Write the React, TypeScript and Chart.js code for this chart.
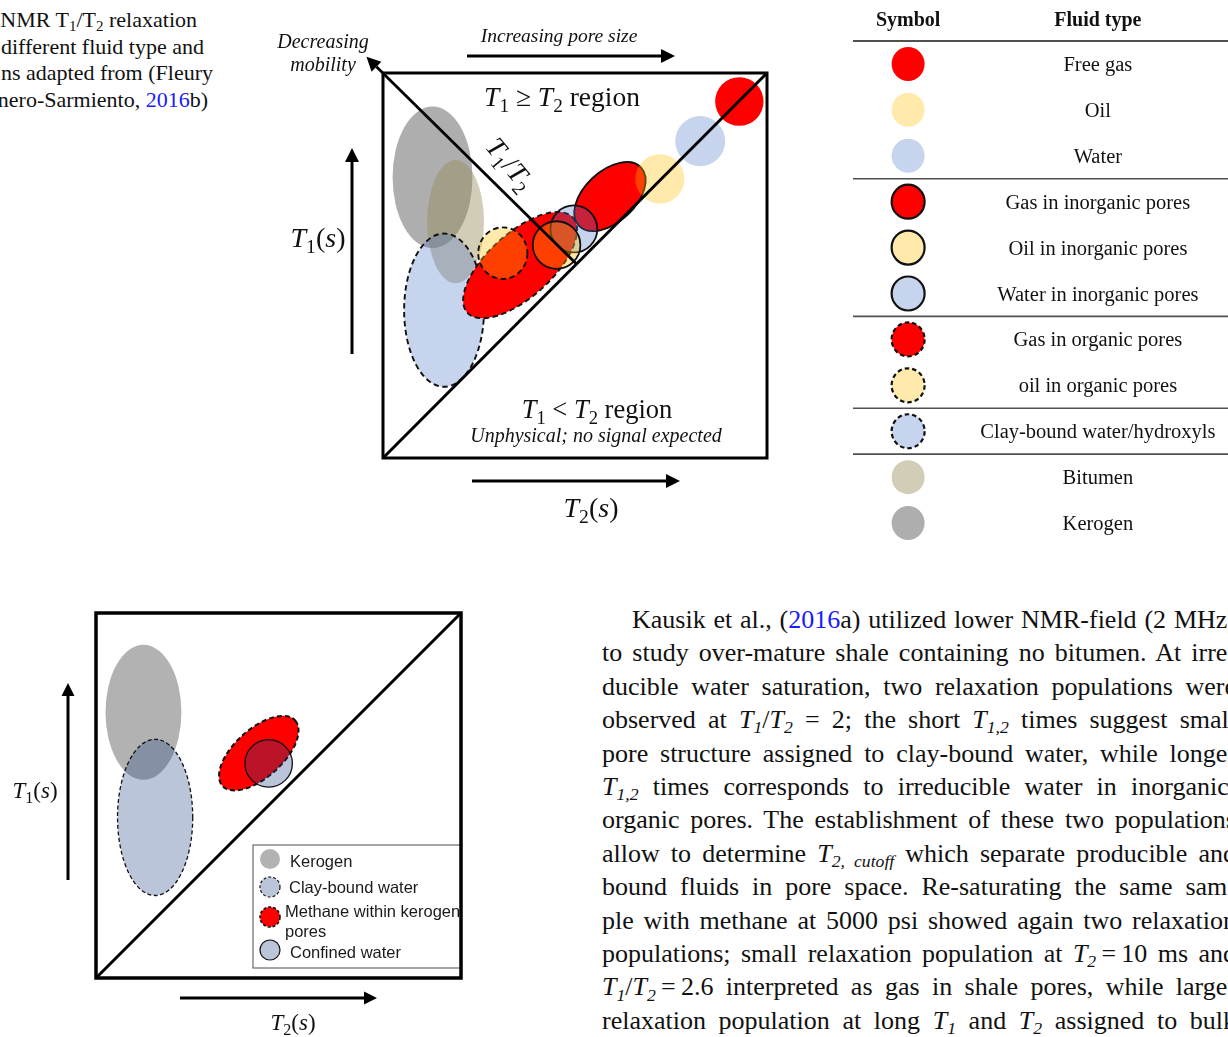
import React, { useEffect, useRef } from 'react';
import { Chart, registerables } from 'chart.js';

Chart.register(...registerables);

// ---------------- DATA ----------------
// Upper diagram: fluid populations on the T2 (x) / T1 (y) map, both axes 0..100 (relative log units)
const topFluids = [
  'Kerogen',
  'Bitumen',
  'Clay-bound water/hydroxyls',
  'Gas in organic pores',
  'oil in organic pores',
  'Gas in inorganic pores',
  'Water in inorganic pores',
  'Oil in inorganic pores',
  'Oil',
  'Water',
  'Free gas',
];
const topT2 = [12.9, 18.9, 15.9, 35.7, 31.2, 59.1, 49.7, 45.2, 72.1, 82.6, 92.8];
const topT1 = [72.9, 61.4, 38.4, 50.1, 53.2, 67.9, 59.5, 55.3, 72.5, 82.3, 92.6];
const topSpreadA = [10.4, 7.4, 10.4, 18.5, 6.4, 11.1, 6.1, 6.2, 6.4, 6.5, 6.3];
const topSpreadB = [18.4, 16.0, 19.9, 8.3, 6.7, 6.6, 6.1, 6.2, 6.4, 6.5, 6.3];
const topTilt = [0, 0, 0, 42, 0, 43, 0, 0, 0, 0, 0];

// Symbol table
const tableHeaders = ['Symbol', 'Fluid type'];
const tableFluids = [
  'Free gas',
  'Oil',
  'Water',
  'Gas in inorganic pores',
  'Oil in inorganic pores',
  'Water in inorganic pores',
  'Gas in organic pores',
  'oil in organic pores',
  'Clay-bound water/hydroxyls',
  'Bitumen',
  'Kerogen',
];
const tableGroupStarts = [3, 6, 8, 9];

// Lower diagram
const botFluids = ['Kerogen', 'Clay-bound water', 'Methane within kerogen pores', 'Confined water'];
const botT2 = [13.0, 16.2, 44.6, 47.3];
const botT1 = [72.8, 44.0, 61.6, 58.8];
const botSpreadA = [10.4, 10.3, 13.4, 6.5];
const botSpreadB = [18.5, 21.4, 6.6, 6.5];
const botTilt = [0, 0, 42, 0];
const botLegendLines = [['Kerogen'], ['Clay-bound water'], ['Methane within kerogen', 'pores'], ['Confined water']];

// ---------------- STYLES ----------------
type Sty = { fill: string; border?: 'solid' | 'dashed' };
const RED = '#ff0000';
const GOLD = 'rgba(255,192,0,0.33)';
const BLUE = 'rgba(68,114,196,0.3)';
const TAN = 'rgba(147,137,83,0.42)';
const GREY = 'rgba(127,127,127,0.63)';
const fluidStyles: Record<string, Sty> = {
  'Free gas': { fill: RED },
  Oil: { fill: GOLD },
  Water: { fill: BLUE },
  'Gas in inorganic pores': { fill: RED, border: 'solid' },
  'Oil in inorganic pores': { fill: GOLD, border: 'solid' },
  'Water in inorganic pores': { fill: BLUE, border: 'solid' },
  'Gas in organic pores': { fill: RED, border: 'dashed' },
  'oil in organic pores': { fill: GOLD, border: 'dashed' },
  'Clay-bound water/hydroxyls': { fill: BLUE, border: 'dashed' },
  Bitumen: { fill: TAN },
  Kerogen: { fill: GREY },
};
const NAVY = 'rgba(30,62,128,0.3)';
const botStyles: Record<string, Sty> = {
  Kerogen: { fill: 'rgba(127,127,127,0.6)' },
  'Clay-bound water': { fill: NAVY, border: 'dashed' },
  'Methane within kerogen pores': { fill: RED, border: 'dashed' },
  'Confined water': { fill: NAVY, border: 'solid' },
};

const SERIF = '"Liberation Serif", "Times New Roman", serif';
const SANS = '"Liberation Sans", Arial, sans-serif';

// ---------------- HELPERS ----------------
type Seg = { t: string; i?: boolean; s?: boolean; b?: boolean };

function drawRich(ctx: CanvasRenderingContext2D, segs: Seg[], x: number, y: number, size: number, align: 'center' | 'left' = 'center', family = SERIF) {
  const fontOf = (sg: Seg) => `${sg.i ? 'italic ' : ''}${sg.b ? 'bold ' : ''}${sg.s ? size * 0.7 : size}px ${family}`;
  const widths = segs.map((sg) => {
    ctx.font = fontOf(sg);
    return ctx.measureText(sg.t).width;
  });
  const total = widths.reduce((a, b) => a + b, 0);
  let cx = align === 'center' ? x - total / 2 : x;
  ctx.textAlign = 'left';
  ctx.textBaseline = 'alphabetic';
  segs.forEach((sg, k) => {
    ctx.font = fontOf(sg);
    ctx.fillText(sg.t, cx, y + (sg.s ? size * 0.22 : 0));
    cx += widths[k];
  });
}

function drawArrow(ctx: CanvasRenderingContext2D, x1: number, y1: number, x2: number, y2: number, lw = 3, hl = 14, hw = 7) {
  const ang = Math.atan2(y2 - y1, x2 - x1);
  const bx = x2 - hl * Math.cos(ang);
  const by = y2 - hl * Math.sin(ang);
  ctx.save();
  ctx.strokeStyle = '#000';
  ctx.fillStyle = '#000';
  ctx.lineWidth = lw;
  ctx.setLineDash([]);
  ctx.beginPath();
  ctx.moveTo(x1, y1);
  ctx.lineTo(bx, by);
  ctx.stroke();
  ctx.beginPath();
  ctx.moveTo(x2, y2);
  ctx.lineTo(bx + hw * Math.sin(ang), by - hw * Math.cos(ang));
  ctx.lineTo(bx - hw * Math.sin(ang), by + hw * Math.cos(ang));
  ctx.closePath();
  ctx.fill();
  ctx.restore();
}

function drawShape(ctx: CanvasRenderingContext2D, x: number, y: number, rx: number, ry: number, rot: number, st: Sty, lw = 1.8, dash = [5, 3.5]) {
  ctx.save();
  ctx.beginPath();
  ctx.ellipse(x, y, rx, ry, rot, 0, Math.PI * 2);
  ctx.fillStyle = st.fill;
  ctx.fill();
  if (st.border) {
    ctx.lineWidth = lw;
    ctx.strokeStyle = '#111';
    ctx.setLineDash(st.border === 'dashed' ? dash : []);
    ctx.stroke();
  }
  ctx.restore();
}

function drawPopulations(chart: any, styles: Record<string, Sty>, lwSolid: number, lwDash: number, dash: number[]) {
  const ctx: CanvasRenderingContext2D = chart.ctx;
  const xs = chart.scales.x;
  const ys = chart.scales.y;
  chart.data.datasets.forEach((ds: any, i: number) => {
    const el: any = chart.getDatasetMeta(i).data[0];
    const raw = ds.data[0];
    const rx = Math.abs(xs.getPixelForValue(raw.x + raw.a) - el.x);
    const ry = Math.abs(ys.getPixelForValue(raw.y + raw.b) - el.y);
    const st = styles[ds.label];
    drawShape(ctx, el.x, el.y, rx, ry, (-raw.tilt * Math.PI) / 180, st, st.border === 'dashed' ? lwDash : lwSolid, dash);
  });
}

function makeDatasets(names: string[], t2: number[], t1: number[], a: number[], b: number[], tilt: number[]) {
  return names.map((n, i) => ({
    label: n,
    data: [{ x: t2[i], y: t1[i], a: a[i], b: b[i], tilt: tilt[i] }],
    pointRadius: 0,
    showLine: false,
  }));
}

function baseOptions(padding: any, xmin = 0, xmax = 100, ymin = 0, ymax = 100, yrev = false): any {
  return {
    responsive: false,
    animation: false,
    events: [],
    layout: { padding },
    plugins: { legend: { display: false }, tooltip: { enabled: false } },
    scales: {
      x: { type: 'linear', min: xmin, max: xmax, display: false },
      y: { type: 'linear', min: ymin, max: ymax, display: false, reverse: yrev },
    },
  };
}

// ---------------- PLUGINS ----------------
const topPlugin = {
  id: 'topDiagram',
  afterDatasetsDraw(chart: any) {
    const ctx: CanvasRenderingContext2D = chart.ctx;
    const ca = chart.chartArea;
    const xs = chart.scales.x;
    const ys = chart.scales.y;
    drawPopulations(chart, fluidStyles, 1.8, 1.9, [5.5, 3.5]);

    ctx.save();
    ctx.strokeStyle = '#000';
    ctx.lineCap = 'butt';
    ctx.lineWidth = 3;
    ctx.beginPath();
    ctx.moveTo(xs.getPixelForValue(0), ys.getPixelForValue(0));
    ctx.lineTo(xs.getPixelForValue(100), ys.getPixelForValue(100));
    ctx.stroke();
    ctx.lineWidth = 3;
    ctx.strokeRect(ca.left, ca.top, ca.right - ca.left, ca.bottom - ca.top);
    ctx.restore();

    // T1/T2 (decreasing mobility) axis
    drawArrow(ctx, xs.getPixelForValue(50.4), ys.getPixelForValue(50.4), xs.getPixelForValue(-4.3), ys.getPixelForValue(104.2), 2.8, 14, 7);

    ctx.fillStyle = '#111';
    ctx.save();
    ctx.translate(ca.left + 127, ca.top + 91);
    ctx.rotate((50 * Math.PI) / 180);
    drawRich(ctx, [{ t: 'T', i: true }, { t: '1', s: true }, { t: '/' }, { t: 'T', i: true }, { t: '2', s: true }], 0, 9, 28);
    ctx.restore();

    drawRich(ctx, [{ t: 'T', i: true }, { t: '1', s: true }, { t: ' ≥ ' }, { t: 'T', i: true }, { t: '2', s: true }, { t: ' region' }], ca.left + 179, ca.top + 33, 27.5);
    drawRich(ctx, [{ t: 'T', i: true }, { t: '1', s: true }, { t: ' < ' }, { t: 'T', i: true }, { t: '2', s: true }, { t: ' region' }], ca.left + 214, ca.top + 345, 26.5);
    drawRich(ctx, [{ t: 'Unphysical; no signal expected', i: true }], ca.left + 213, ca.top + 369, 20);

    drawRich(ctx, [{ t: 'Decreasing', i: true }], ca.left - 60, 48, 20);
    drawRich(ctx, [{ t: 'mobility', i: true }], ca.left - 60, 71, 20);
    drawRich(ctx, [{ t: 'Increasing pore size', i: true }], ca.left + 176, 42, 19.5);
    drawArrow(ctx, ca.left + 84, 56, ca.left + 292, 56, 3, 14, 7);

    drawArrow(ctx, ca.left - 31, ca.bottom - 104, ca.left - 31, ca.top + 75, 3, 14, 7);
    drawRich(ctx, [{ t: 'T', i: true }, { t: '1', s: true }, { t: '(' }, { t: 's', i: true }, { t: ')' }], ca.left - 65, ca.top + 174, 28);

    drawArrow(ctx, ca.left + 89, ca.bottom + 23, ca.left + 297, ca.bottom + 23, 3, 14, 7);
    drawRich(ctx, [{ t: 'T', i: true }, { t: '2', s: true }, { t: '(' }, { t: 's', i: true }, { t: ')' }], ca.left + 208, ca.bottom + 59, 28);
  },
};

const SYMBOL_COL = 0.147;
const TEXT_COL = 0.653;

const tablePlugin = {
  id: 'symbolTable',
  afterDatasetsDraw(chart: any) {
    const ctx: CanvasRenderingContext2D = chart.ctx;
    const ca = chart.chartArea;
    const xs = chart.scales.x;
    const ys = chart.scales.y;
    const sx = xs.getPixelForValue(SYMBOL_COL);
    const tx = xs.getPixelForValue(TEXT_COL);

    ctx.fillStyle = '#111';
    drawRich(ctx, [{ t: tableHeaders[0], b: true }], sx, 26, 20);
    drawRich(ctx, [{ t: tableHeaders[1], b: true }], tx, 26, 20);

    ctx.save();
    ctx.strokeStyle = '#505050';
    ctx.lineWidth = 2.2;
    ctx.beginPath();
    ctx.moveTo(ca.left, ys.getPixelForValue(-0.5));
    ctx.lineTo(ca.right, ys.getPixelForValue(-0.5));
    ctx.stroke();
    ctx.lineWidth = 1.7;
    tableGroupStarts.forEach((g) => {
      const y = ys.getPixelForValue(g - 0.5);
      ctx.beginPath();
      ctx.moveTo(ca.left, y);
      ctx.lineTo(ca.right, y);
      ctx.stroke();
    });
    ctx.restore();

    const meta = chart.getDatasetMeta(0);
    meta.data.forEach((el: any, i: number) => {
      const name = tableFluids[i];
      drawShape(ctx, el.x, el.y, 16.5, 17, 0, fluidStyles[name], 2.2, [4.5, 3]);
      ctx.fillStyle = '#111';
      drawRich(ctx, [{ t: name }], tx, el.y + 7, 20.5);
    });
  },
};

const botPlugin = {
  id: 'botDiagram',
  afterDatasetsDraw(chart: any) {
    const ctx: CanvasRenderingContext2D = chart.ctx;
    const ca = chart.chartArea;
    const xs = chart.scales.x;
    const ys = chart.scales.y;
    ctx.save();
    chart.data.datasets.forEach((ds: any, i: number) => {
      const el: any = chart.getDatasetMeta(i).data[0];
      const raw = ds.data[0];
      const rx = Math.abs(xs.getPixelForValue(raw.x + raw.a) - el.x);
      const ry = Math.abs(ys.getPixelForValue(raw.y + raw.b) - el.y);
      const st = botStyles[ds.label];
      const isMeth = ds.label.startsWith('Methane');
      drawShape(ctx, el.x, el.y, rx, ry, (-raw.tilt * Math.PI) / 180, st, isMeth ? 2 : 1.3, isMeth ? [5, 3] : [4, 2.5]);
    });
    ctx.restore();

    ctx.save();
    ctx.strokeStyle = '#000';
    ctx.lineWidth = 3;
    ctx.beginPath();
    ctx.moveTo(xs.getPixelForValue(0), ys.getPixelForValue(0));
    ctx.lineTo(xs.getPixelForValue(100), ys.getPixelForValue(100));
    ctx.stroke();
    ctx.restore();

    // legend
    const lx = ca.left + 157;
    const ly = ca.top + 232;
    ctx.save();
    ctx.fillStyle = '#fff';
    ctx.fillRect(lx, ly, ca.right - lx, 123);
    ctx.strokeStyle = '#6a6a6a';
    ctx.lineWidth = 1.2;
    ctx.strokeRect(lx, ly, ca.right - lx, 123);
    const symY = [14, 42, 72, 105];
    const txtY: any[] = [22, 48, [72, 92], 113];
    botFluids.forEach((f, i) => {
      drawShape(ctx, lx + 17, ly + symY[i], 10, 10, 0, botStyles[f], i === 2 ? 1.6 : 1.2, [3, 2]);
      ctx.fillStyle = '#1a1a1a';
      const lines = botLegendLines[i];
      const ty = txtY[i];
      if (lines.length === 1) {
        drawRich(ctx, [{ t: lines[0] }], lx + (i === 1 ? 36 : 37), ly + ty, 16.5, 'left', SANS);
      } else {
        drawRich(ctx, [{ t: lines[0] }], lx + 32, ly + ty[0], 16.5, 'left', SANS);
        drawRich(ctx, [{ t: lines[1] }], lx + 32, ly + ty[1], 16.5, 'left', SANS);
      }
    });
    ctx.restore();

    ctx.save();
    ctx.strokeStyle = '#000';
    ctx.lineWidth = 3.5;
    ctx.strokeRect(ca.left, ca.top, ca.right - ca.left, ca.bottom - ca.top);
    ctx.restore();

    drawArrow(ctx, ca.left - 28, ca.bottom - 98, ca.left - 28, ca.top + 70, 3, 13, 6.5);
    ctx.fillStyle = '#111';
    drawRich(ctx, [{ t: 'T', i: true }, { t: '1', s: true }, { t: '(' }, { t: 's', i: true }, { t: ')' }], ca.left - 61, ca.top + 185, 23);
    drawArrow(ctx, ca.left + 84, ca.bottom + 20, ca.left + 281, ca.bottom + 20, 3, 13, 6.5);
    drawRich(ctx, [{ t: 'T', i: true }, { t: '2', s: true }, { t: '(' }, { t: 's', i: true }, { t: ')' }], ca.left + 197, ca.bottom + 52, 23);
  },
};

// ---------------- TEXT ----------------
const subSty = (italic: boolean): React.CSSProperties => ({ fontSize: '0.68em', position: 'relative', top: '0.3em', fontStyle: italic ? 'italic' : 'normal', lineHeight: 0 });
const Ti = (sub: string) => (
  <>
    <i>T</i>
    <span style={subSty(true)}>{sub}</span>
  </>
);
const Tu = (sub: string) => (
  <>
    T<span style={subSty(false)}>{sub}</span>
  </>
);
const Blue = (s: string) => <span style={{ color: '#1a1aff' }}>{s}</span>;

const captionLines: { right: number; content: React.ReactNode }[] = [
  { right: 197, content: <>NMR {Tu('1')}/{Tu('2')} relaxation</> },
  { right: 204, content: <>different fluid type and</> },
  { right: 213, content: <>ns adapted from (Fleury</> },
  { right: 208, content: <>nero-Sarmiento, {Blue('2016')}b)</> },
];

const paraLines: React.ReactNode[] = [
  <>Kausik et al., ({Blue('2016')}a) utilized lower NMR-field (2 MHz)</>,
  <>to study over-mature shale containing no bitumen. At irre-</>,
  <>ducible water saturation, two relaxation populations were</>,
  <>observed at {Ti('1')}/{Ti('2')} = 2; the short {Ti('1,2')} times suggest small</>,
  <>pore structure assigned to clay-bound water, while longer</>,
  <>{Ti('1,2')} times corresponds to irreducible water in inorganic/</>,
  <>organic pores. The establishment of these two populations</>,
  <>allow to determine {Ti('2, cutoff')} which separate producible and</>,
  <>bound fluids in pore space. Re-saturating the same sam-</>,
  <>ple with methane at 5000 psi showed again two relaxation</>,
  <>populations; small relaxation population at {Ti('2')}{'\u2009=\u2009'}10 ms and</>,
  <>{Ti('1')}/{Ti('2')}{'\u2009=\u2009'}2.6 interpreted as gas in shale pores, while larger</>,
  <>relaxation population at long {Ti('1')} and {Ti('2')} assigned to bulk</>,
];

// ---------------- COMPONENT ----------------
export default function App() {
  const topRef = useRef<HTMLCanvasElement>(null);
  const tabRef = useRef<HTMLCanvasElement>(null);
  const botRef = useRef<HTMLCanvasElement>(null);

  useEffect(() => {
    const charts: Chart[] = [];
    if (topRef.current) {
      charts.push(
        new Chart(topRef.current, {
          type: 'scatter',
          data: { datasets: makeDatasets(topFluids, topT2, topT1, topSpreadA, topSpreadB, topTilt) as any },
          options: baseOptions({ left: 123, top: 73, right: 33, bottom: 82 }),
          plugins: [topPlugin],
        })
      );
    }
    if (tabRef.current) {
      charts.push(
        new Chart(tabRef.current, {
          type: 'scatter',
          data: {
            datasets: [
              {
                label: 'symbols',
                data: tableFluids.map((_, i) => ({ x: SYMBOL_COL, y: i })),
                pointRadius: 0,
              },
            ] as any,
          },
          options: baseOptions({ left: 13, top: 41, right: 0, bottom: 4 }, 0, 1, -0.5, tableFluids.length - 0.5, true),
          plugins: [tablePlugin],
        })
      );
    }
    if (botRef.current) {
      charts.push(
        new Chart(botRef.current, {
          type: 'scatter',
          data: { datasets: makeDatasets(botFluids, botT2, botT1, botSpreadA, botSpreadB, botTilt) as any },
          options: baseOptions({ left: 96, top: 53, right: 19, bottom: 59 }),
          plugins: [botPlugin],
        })
      );
    }
    return () => charts.forEach((c) => c.destroy());
  }, []);

  return (
    <div
      style={{
        position: 'absolute',
        left: 0,
        top: 0,
        width: 1228,
        height: 1037,
        overflow: 'hidden',
        background: '#fff',
        color: '#111',
        fontFamily: SERIF,
      }}
    >
      {captionLines.map((l, i) => (
        <div
          key={'c' + i}
          style={{
            position: 'absolute',
            right: 1228 - l.right,
            top: 7 + i * 26.6,
            fontSize: 22,
            lineHeight: '26.6px',
            whiteSpace: 'nowrap',
            textAlign: 'right',
          }}
        >
          {l.content}
        </div>
      ))}
      <canvas ref={topRef} width={540} height={540} style={{ position: 'absolute', left: 260, top: 0, width: 540, height: 540 }} />
      <canvas ref={tabRef} width={388} height={550} style={{ position: 'absolute', left: 840, top: 0, width: 388, height: 550 }} />
      <canvas ref={botRef} width={480} height={477} style={{ position: 'absolute', left: 0, top: 560, width: 480, height: 477 }} />
      {paraLines.map((l, i) => (
        <div
          key={'p' + i}
          style={{
            position: 'absolute',
            left: i === 0 ? 632 : 602,
            top: 603 + i * 33.4,
            width: i === 0 ? 604 : 634,
            height: 33.4,
            fontSize: 26,
            lineHeight: '33.4px',
            textAlign: 'justify',
            textAlignLast: 'justify',
            overflow: 'hidden',
          }}
        >
          {l}
        </div>
      ))}
    </div>
  );
}
